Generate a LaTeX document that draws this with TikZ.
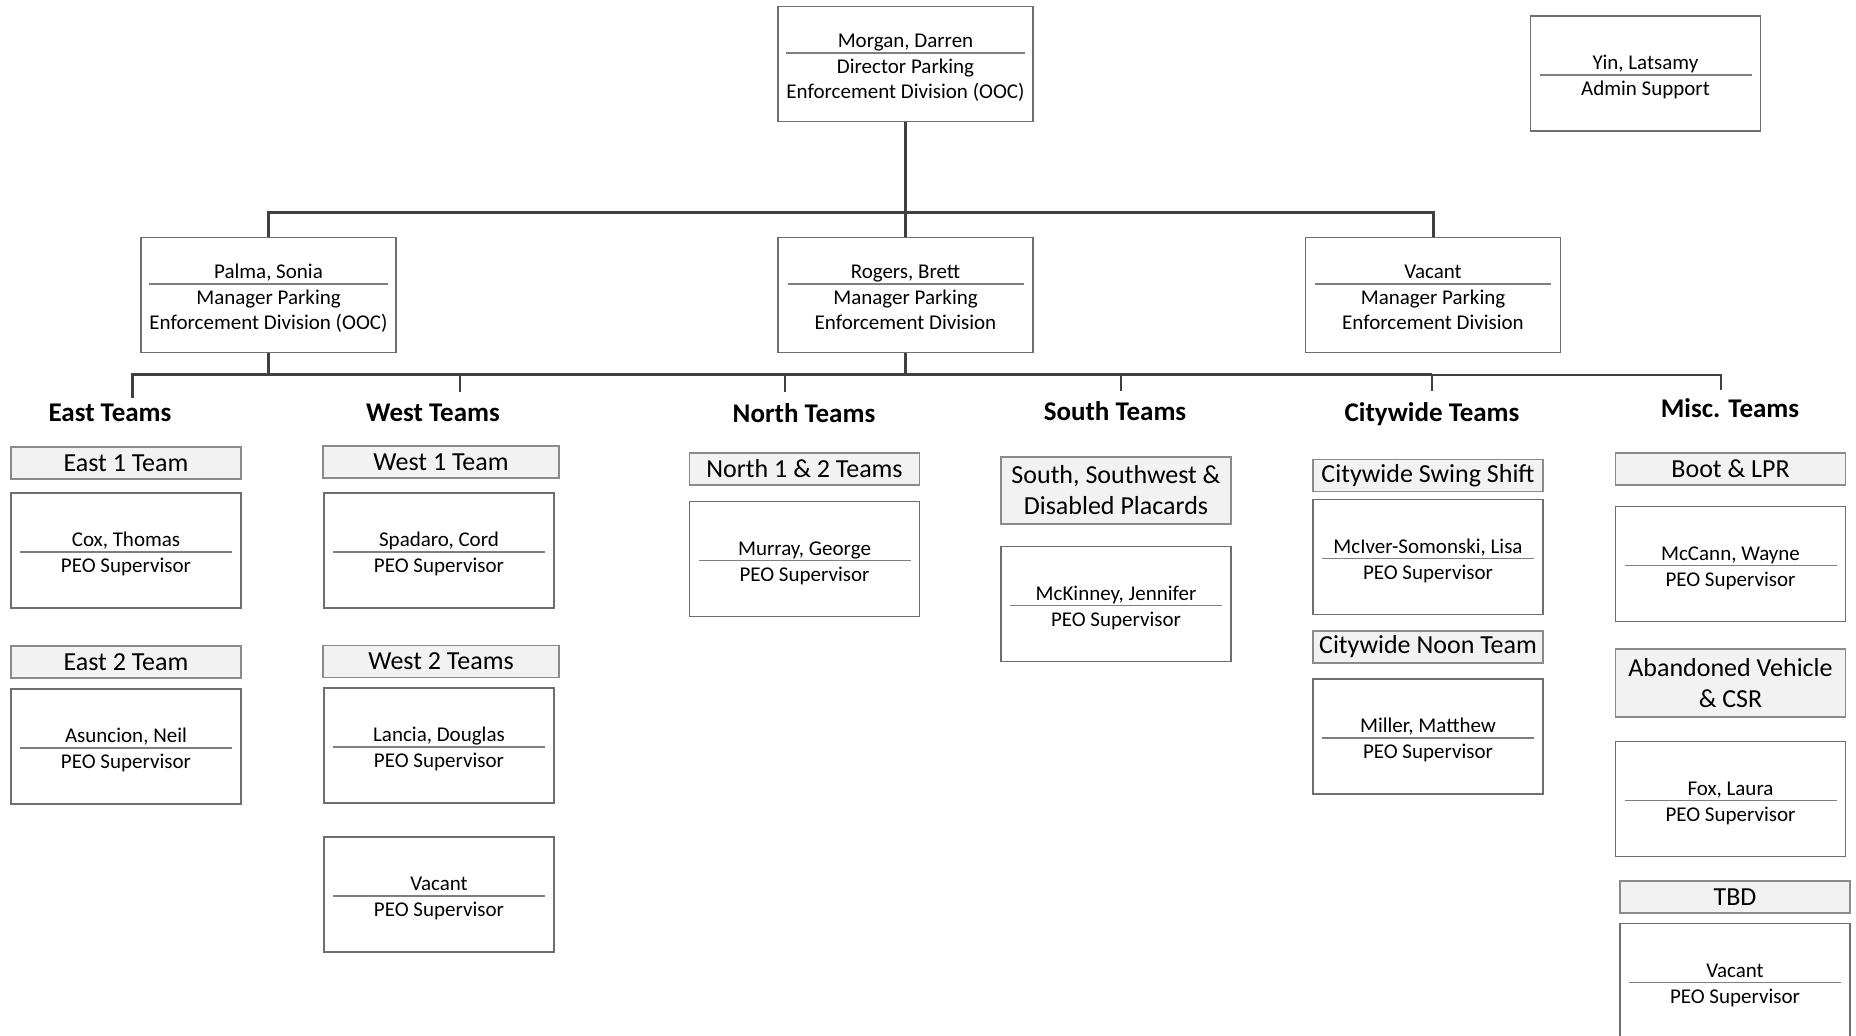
\documentclass[tikz,border=0pt]{standalone}
\usepackage{fontspec}
\setmainfont{Carlito}
\usepackage{colortbl}
\definecolor{lineDark}{HTML}{404040}
\definecolor{boxGray}{HTML}{6E6E6E}
\definecolor{tagFill}{HTML}{F2F2F2}
\definecolor{tagGray}{HTML}{8A8A8A}
\definecolor{ruleGray}{HTML}{7F7F7F}
\arrayrulecolor{ruleGray}
\setlength{\arrayrulewidth}{0.7pt}
\newcommand{\staff}[3][106pt]{\begin{tabular}{@{}c@{}}\rule{0pt}{13pt}\makebox[#1]{#2}\\[-1.5pt]\hline\rule{0pt}{10pt}#3\end{tabular}}
\begin{document}
\begin{tikzpicture}[x=0.5pt,y=-0.5pt,
    staffbox/.style={draw=boxGray,line width=0.6pt,fill=white,inner sep=0pt,minimum width=115pt,minimum height=57.5pt,font=\fontsize{10.5}{12.5}\selectfont},
    mgrbox/.style={staffbox,minimum width=127.5pt,minimum height=57.5pt},
    teamtag/.style={draw=tagGray,line width=0.6pt,fill=tagFill,inner sep=0pt,minimum width=115pt,minimum height=16pt,align=center,font=\fontsize{13}{15.5}\selectfont},
    heading/.style={font=\fontsize{13.5}{16}\selectfont\bfseries},
    conn/.style={draw=lineDark,line width=1.5pt},
    tick/.style={draw=lineDark,line width=1pt}]
        \useasboundingbox (0,0) rectangle (1856,1036);
        \clip (0,0) rectangle (1856,1036);
        % top of the chart
        \node[mgrbox] (morgan) at (905.5,64) {\staff[118pt]{Morgan, Darren}{Director Parking\\Enforcement Division (OOC)}};
        \node[staffbox] (yin) at (1645.5,73.5) {\staff{Yin, Latsamy}{Admin Support}};
        \node[mgrbox] (palma) at (268.5,295) {\staff[118pt]{Palma, Sonia}{Manager Parking\\Enforcement Division (OOC)}};
        \node[mgrbox] (rogers) at (905.5,295) {\staff[118pt]{Rogers, Brett}{Manager Parking\\Enforcement Division}};
        \node[mgrbox] (mgrv) at (1433,295) {\staff[118pt]{Vacant}{Manager Parking\\Enforcement Division}};
        \coordinate (topbar) at (905.5,213);
        \coordinate (lowbar) at (905.5,375);
        \draw[conn] (morgan.south) -- (rogers.north);
        \draw[conn] (palma.north) |- (topbar) -| (mgrv.north);
        \draw[conn] (palma.south) -- (palma.south |- lowbar);
        \draw[conn] (rogers.south) -- (lowbar);
        % team ticks
        \coordinate (eastTick) at (132,398);
        \coordinate (westTick) at (460,392);
        \coordinate (northTick) at (785,392);
        \coordinate (southTick) at (1121,391);
        \coordinate (cityTick) at (1432,391);
        \coordinate (miscTick) at (1721,390);
        \draw[conn] (eastTick) |- (cityTick |- lowbar);
        \draw[tick] (cityTick |- lowbar) -| (miscTick);
        \foreach \t in {westTick,northTick,southTick,cityTick}
            \draw[tick] (\t |- lowbar) -- (\t);
        % headings
        \node[heading] (eastHead) at (110,413) {East Teams};
        \node[heading] (westHead) at (433,413) {West Teams};
        \node[heading] (northHead) at (804,413) {North Teams};
        \node[heading] (southHead) at (1115,411) {South Teams};
        \node[heading] (cityHead) at (1432,414) {Citywide Teams};
        \node[heading] (miscHead) at (1730,408) {Misc. Teams};
        % east
        \node[teamtag] (east1) at (126,463) {East 1 Team};
        \node[staffbox] (cox) at (126,550.5) {\staff{Cox, Thomas}{PEO Supervisor}};
        \node[teamtag] (east2) at (126,662) {East 2 Team};
        \node[staffbox] (asuncion) at (126,746.5) {\staff{Asuncion, Neil}{PEO Supervisor}};
        % west
        \node[teamtag,minimum width=118pt] (west1) at (441,462) {West 1 Team};
        \node[staffbox] (spadaro) at (439,550.5) {\staff{Spadaro, Cord}{PEO Supervisor}};
        \node[teamtag,minimum width=118pt] (west2) at (441,661.5) {West 2 Teams};
        \node[staffbox] (lancia) at (439,745.5) {\staff{Lancia, Douglas}{PEO Supervisor}};
        \node[staffbox] (westv) at (439,894.5) {\staff{Vacant}{PEO Supervisor}};
        % north
        \node[teamtag] (north12) at (804.5,469) {North 1 \& 2 Teams};
        \node[staffbox] (murray) at (804.5,559) {\staff{Murray, George}{PEO Supervisor}};
        % south
        \node[teamtag,minimum height=33.5pt] (southsw) at (1116,490.5) {South, Southwest \&\\Disabled Placards};
        \node[staffbox] (mckinney) at (1116,604) {\staff{McKinney, Jennifer}{PEO Supervisor}};
        % citywide
        \node[teamtag] (swing) at (1428,475.5) {Citywide Swing Shift};
        \node[staffbox] (mciver) at (1428,557) {\staff{McIver-Somonski, Lisa}{PEO Supervisor}};
        \node[teamtag] (noon) at (1428,647) {Citywide Noon Team};
        \node[staffbox] (miller) at (1428,736.5) {\staff{Miller, Matthew}{PEO Supervisor}};
        % misc
        \node[teamtag] (boot) at (1730.5,469) {Boot \& LPR};
        \node[staffbox] (mccann) at (1730.5,564) {\staff{McCann, Wayne}{PEO Supervisor}};
        \node[teamtag,minimum height=34pt] (aband) at (1730.5,683) {Abandoned Vehicle\\\& CSR};
        \node[staffbox] (fox) at (1730.5,799) {\staff{Fox, Laura}{PEO Supervisor}};
        \node[teamtag] (tbd) at (1735,897) {TBD};
        \node[staffbox] (miscv) at (1735,981) {\staff{Vacant}{PEO Supervisor}};
    \end{tikzpicture}
\end{document}
